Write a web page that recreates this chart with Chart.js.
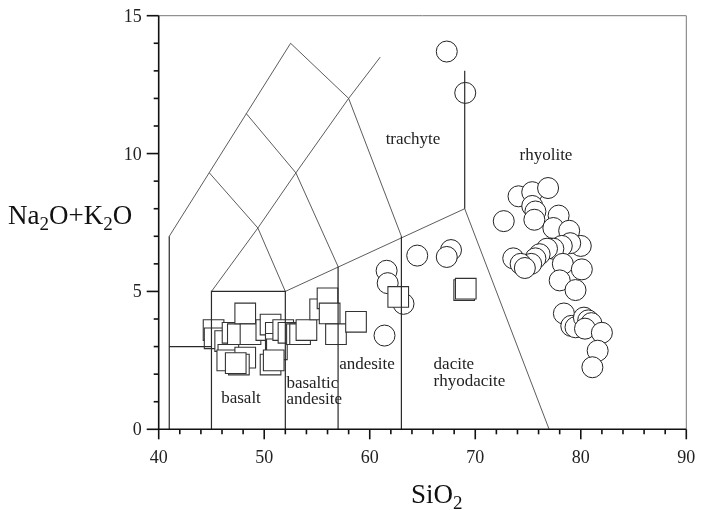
<!DOCTYPE html>
<html>
<head>
<meta charset="utf-8">
<script src="https://cdn.jsdelivr.net/npm/chart.js@4.4.1/dist/chart.umd.min.js"></script>
<style>
  body { margin: 0; background: #fff; }
  #tas { display: block; }
</style>
</head>
<body>
<canvas id="tas" width="702" height="510"></canvas>
<script>
// Axis ranges and tick labels
const xTickLabels = [40, 50, 60, 70, 80, 90];
const yTickLabels = [0, 5, 10, 15];

// Samples: circles (felsic) and squares (mafic), [SiO2, Na2O+K2O]
const circleSiO2 = [67.3, 69.05, 64.5, 67.7, 67.3, 61.6, 61.7, 63.2, 61.4,
  72.7, 74.1, 75.4, 76.9, 75.4, 75.7, 75.6, 77.9, 77.4, 78.9, 80.0, 79.0, 78.2, 77.4,
  76.8, 76.1, 75.7, 75.3, 73.6, 74.3, 74.7, 78.3, 80.1, 78.0, 79.5, 78.4, 79.1, 79.5,
  80.3, 80.7, 81.0, 80.4, 82.0, 81.6, 81.1];
const circleAlkali = [13.7, 12.2, 6.3, 6.5, 6.25, 5.75, 5.3, 4.55, 3.4,
  7.55, 8.45, 8.6, 8.75, 8.1, 7.9, 7.6, 7.75, 7.3, 7.2, 6.65, 6.75, 6.65, 6.55,
  6.55, 6.35, 6.2, 6.0, 6.2, 6.0, 5.85, 6.0, 5.8, 5.4, 5.05, 4.2, 3.75, 3.7,
  4.05, 3.95, 3.85, 3.65, 3.5, 2.85, 2.25];

const squareSiO2 = [45.2, 45.3, 46.3, 46.6, 46.5, 47.0, 47.5, 48.2, 48.7, 48.2, 47.6, 47.3,
  50.2, 50.6, 51.1, 51.1, 51.2, 50.6, 50.9, 51.8, 52.3, 53.1, 53.4, 54.0,
  55.3, 56.0, 56.2, 56.8, 58.7, 62.7, 68.95, 69.1];
const squareAlkali = [3.6, 3.3, 3.2, 2.7, 2.5, 3.5, 3.45, 4.2, 3.45, 2.6, 2.35, 2.4,
  3.6, 3.8, 3.5, 3.1, 2.9, 2.35, 2.5, 3.6, 3.5, 3.45, 3.45, 3.6,
  4.35, 4.75, 4.2, 3.45, 3.9, 4.8, 5.05, 5.1];

// TAS field boundaries, [SiO2, Na2O+K2O] vertices
const darkBoundaries = [
  [[41, 0], [41, 7]],
  [[63, 7], [63, 0]],
  [[41, 3], [45, 3]],
  [[45, 0], [45, 5], [52, 5], [52, 0]],
  [[57, 0], [57, 5.9]],
  [[69, 8], [69, 13]]
];
const lightBoundaries = [
  [[41, 7], [52.5, 14], [58, 12], [63, 7]],
  [[45, 5], [49.4, 7.3], [53, 9.3], [58, 12], [61, 13.5]],
  [[52, 5], [69, 8]],
  [[44.8, 9.3], [49.4, 7.3], [52, 5]],
  [[48.3, 11.45], [53, 9.3], [57, 5.9]],
  [[69, 8], [77, 0]]
];

// Field names and where they sit (data coordinates)
const fieldNames = ['trachyte', 'rhyolite', 'andesite', 'dacite', 'rhyodacite', 'basaltic', 'andesite', 'basalt'];
const fieldSiO2 = [64.1, 76.7, 57.1, 66.05, 66.05, 52.1, 52.1, 47.8];
const fieldAlkali = [10.55, 10.0, 2.4, 2.4, 1.78, 1.72, 1.12, 1.16];
const fieldAlign = ['center', 'center', 'left', 'left', 'left', 'left', 'left', 'center'];

const serif = '"Liberation Serif", "DejaVu Serif", serif';
const pts = (xs, ys) => xs.map((v, i) => ({ x: v, y: ys[i] }));
const poly = (p) => p.map(([x, y]) => ({ x, y }));

const lineSets = [];
darkBoundaries.forEach((p) => lineSets.push({
  data: poly(p), showLine: true, pointRadius: 0, borderColor: '#2a2a2a', borderWidth: 1.2, order: 0
}));
lightBoundaries.forEach((p) => lineSets.push({
  data: poly(p), showLine: true, pointRadius: 0, borderColor: '#4a4a4a', borderWidth: 0.9, order: 0
}));

// Frame, ticks, labels
const decorations = {
  id: 'decorations',
  afterDraw(chart) {
    const { ctx, chartArea: a, scales: { x, y } } = chart;
    ctx.save();
    ctx.strokeStyle = '#777';
    ctx.lineWidth = 1;
    ctx.beginPath();
    ctx.moveTo(a.left, a.top); ctx.lineTo(a.right, a.top); ctx.lineTo(a.right, a.bottom);
    ctx.stroke();
    ctx.strokeStyle = '#111';
    ctx.lineWidth = 1.6;
    ctx.beginPath();
    ctx.moveTo(a.left, a.top); ctx.lineTo(a.left, a.bottom); ctx.lineTo(a.right, a.bottom);
    ctx.stroke();

    ctx.lineWidth = 1.6;
    for (let v = x.min; v <= x.max; v += 2) {
      const px = x.getPixelForValue(v);
      const len = xTickLabels.includes(v) ? 10 : 5;
      ctx.beginPath(); ctx.moveTo(px, a.bottom); ctx.lineTo(px, a.bottom + len); ctx.stroke();
    }
    for (let v = y.min; v <= y.max; v += 1) {
      const py = y.getPixelForValue(v);
      const len = yTickLabels.includes(v) ? 12 : 5;
      ctx.beginPath(); ctx.moveTo(a.left, py); ctx.lineTo(a.left - len, py); ctx.stroke();
    }

    // tick labels
    ctx.fillStyle = '#222';
    ctx.font = '18px ' + serif;
    ctx.textBaseline = 'alphabetic';
    ctx.textAlign = 'center';
    xTickLabels.forEach((v) => ctx.fillText(String(v), x.getPixelForValue(v), a.bottom + 34));
    ctx.textAlign = 'right';
    yTickLabels.forEach((v) => ctx.fillText(String(v), a.left - 17, y.getPixelForValue(v) + 6));

    // field names
    ctx.font = '17px ' + serif;
    fieldNames.forEach((t, i) => {
      ctx.textAlign = fieldAlign[i];
      ctx.fillText(t, x.getPixelForValue(fieldSiO2[i]), y.getPixelForValue(fieldAlkali[i]) + 6);
    });

    // axis titles with subscripts
    const writeParts = (parts, x0, base) => {
      ctx.textAlign = 'left';
      let cx = x0;
      parts.forEach(([t, sub]) => {
        ctx.font = (sub ? '19px ' : '27px ') + serif;
        ctx.fillText(t, cx, base + (sub ? 6 : 0));
        cx += ctx.measureText(t).width;
      });
    };
    ctx.fillStyle = '#111';
    writeParts([['Na'], ['2', 1], ['O+K'], ['2', 1], ['O']], 8, 224);
    writeParts([['SiO'], ['2', 1]], 411, 503);
    ctx.restore();
  }
};

new Chart(document.getElementById('tas'), {
  type: 'scatter',
  data: {
    datasets: [
      ...lineSets,
      {
        data: pts(squareSiO2, squareAlkali), pointStyle: 'rect', pointRadius: 14.6,
        backgroundColor: '#fff', borderColor: '#333', borderWidth: 1.1, order: 1
      },
      {
        data: pts(circleSiO2, circleAlkali), pointStyle: 'circle', pointRadius: 10.5,
        backgroundColor: '#fff', borderColor: '#222', borderWidth: 1, order: 2
      }
    ]
  },
  options: {
    responsive: false,
    animation: false,
    events: [],
    layout: { padding: { top: 14, right: 8.7, left: 0, bottom: 0 } },
    plugins: { legend: { display: false }, tooltip: { enabled: false } },
    scales: {
      x: {
        type: 'linear', min: 40, max: 90,
        grid: { display: false }, border: { display: false },
        ticks: { display: false },
        afterFit: (s) => { s.height = 80.7; }
      },
      y: {
        type: 'linear', min: 0, max: 15,
        grid: { display: false }, border: { display: false },
        ticks: { display: false },
        afterFit: (s) => { s.width = 158.7; }
      }
    }
  },
  plugins: [decorations]
});
</script>
</body>
</html>
